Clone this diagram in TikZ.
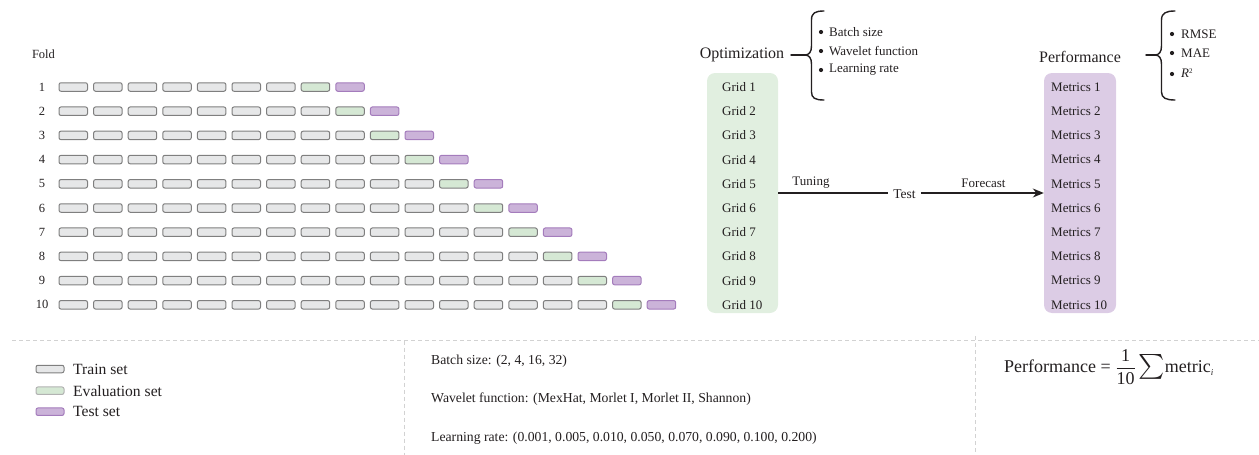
\documentclass[tikz,border=0pt]{standalone}
\usepackage{amsmath}
\usepackage{fontspec}
\setmainfont{Liberation Serif}
\usetikzlibrary{arrows.meta}

\definecolor{trainfill}{HTML}{E6E7E8}
\definecolor{trainedge}{HTML}{7F7F7F}
\definecolor{evalfill}{HTML}{D5E8D4}
\definecolor{testfill}{HTML}{CBB3D9}
\definecolor{testedge}{HTML}{A47CBC}
\definecolor{gridpanel}{HTML}{E1EFE0}
\definecolor{metricpanel}{HTML}{DCCCE5}
\definecolor{rulegrey}{HTML}{D2D2D2}
\definecolor{ink}{HTML}{231F20}

\begin{document}
\begin{tikzpicture}[x=1pt,y=-1pt,
  every node/.style={text=ink},
  cell/.style={rectangle, rounded corners=2pt, minimum width=28.5pt,
    minimum height=8.5pt, inner sep=0pt, line width=1pt},
  traincell/.style={cell, fill=trainfill, draw=trainedge},
  evalcell/.style={cell, fill=evalfill, draw=trainedge},
  testcell/.style={cell, fill=testfill, draw=testedge},
  keycell/.style={cell, minimum height=7.5pt, minimum width=28pt},
  small/.style={font=\fontsize{13}{15}\selectfont, inner sep=1pt},
  rowlbl/.style={font=\fontsize{12.5}{14}\selectfont, inner sep=1pt},
  title/.style={font=\fontsize{16}{19}\selectfont, inner sep=1pt},
  bullettext/.style={font=\fontsize{13}{15}\selectfont, anchor=west, inner sep=1pt},
  panel/.style={rectangle, rounded corners=8pt, minimum width=71pt,
    minimum height=240pt, inner sep=0pt},
  legendtext/.style={font=\fontsize{15.6}{18}\selectfont, anchor=west, inner sep=1pt},
  paramtext/.style={font=\fontsize{13.7}{16}\selectfont, anchor=west, inner sep=1pt},
  bracepath/.style={draw=ink, line width=1.4pt, line cap=round},
  sep/.style={draw=rulegrey, line width=0.8pt, dash pattern=on 4pt off 3pt},
  link/.style={draw=ink, line width=1.3pt},
  dot/.style={fill=ink}
]
\useasboundingbox (0,0) rectangle (1259,455);

% ---- folds of the rolling split ----
\node[rowlbl] (fold) at (43.5,54) {Fold};
\foreach \k in {1,...,10}{
  \pgfmathsetmacro{\yy}{87+(\k-1)*24.2}
  \pgfmathtruncatemacro{\n}{\k+8}
  \pgfmathtruncatemacro{\m}{\k+7}
  \node[rowlbl] (row\k) at (42,\yy) {\k};
  \foreach \j in {1,...,\n}{
    \pgfmathsetmacro{\xx}{73.25+(\j-1)*34.6}
    \ifnum\j=\n \def\sty{testcell}\else\ifnum\j=\m \def\sty{evalcell}\else\def\sty{traincell}\fi\fi
    \node[style=\sty] (c\k-\j) at (\xx,\yy) {};
  }
}

% ---- grid search column ----
\node[panel, fill=gridpanel] (gridp) at (742.5,193) {};
\node[title] (opt) at (742,55) {Optimization};
\foreach \k in {1,...,10}{
  \pgfmathsetmacro{\yy}{87+(\k-1)*24.2}
  \node[small, anchor=west] (g\k) at (721,\yy) {Grid \k};
}

% ---- metrics column ----
\node[panel, fill=metricpanel, minimum width=72pt] (metp) at (1080,193) {};
\node[title] (perfhead) at (1080,57) {Performance};
\foreach \k in {1,...,10}{
  \pgfmathsetmacro{\yy}{87+(\k-1)*24.2}
  \node[small, anchor=west] (m\k) at (1050,\yy) {Metrics \k};
}

% ---- flow from tuning to forecast ----
\node[small, inner xsep=5pt, font=\fontsize{13.5}{15}\selectfont] (test) at (904.5,194) {Test};
\node[small] (tuning) at (811,183) {Tuning};
\node[small] (forecast) at (983.5,183) {Forecast};
\draw[link] (gridp.east |- 0,193) -- (test.west |- 0,193);
\draw[link, -{Stealth[length=11pt,width=9pt]}] (test.east |- 0,193) -- (metp.west |- 0,193);

% ---- braces with the tuned settings ----
\coordinate (optb) at (805,55);
\draw[bracepath] (791,55) -- (optb);
\draw[bracepath] (824,11) .. controls (815,11) and (811.5,13) .. (811.5,20)
  -- (811.5,46) .. controls (811.5,52) and (809,55) .. (optb)
  .. controls (809,55) and (811.5,58) .. (811.5,64)
  -- (811.5,92) .. controls (811.5,98) and (815,100) .. (824,100);
\foreach \t/\yy/\nm in {Batch size/32/ob1, Wavelet function/51/ob2, Learning rate/70/ob3}{
  \fill[dot] (821,\yy) circle (2.1);
  \node[bullettext] (\nm) at (828,\yy) {\t};
}

\coordinate (perfb) at (1155,55);
\draw[bracepath] (1146,55) -- (perfb);
\draw[bracepath] (1175,11) .. controls (1166,11) and (1161.5,13) .. (1161.5,20)
  -- (1161.5,46) .. controls (1161.5,52) and (1159,55) .. (perfb)
  .. controls (1159,55) and (1161.5,58) .. (1161.5,64)
  -- (1161.5,92) .. controls (1161.5,98) and (1166,100) .. (1175,100);
\fill[dot] (1172,34) circle (2.1);
\node[bullettext] (pb1) at (1180,34) {RMSE};
\fill[dot] (1172,53) circle (2.1);
\node[bullettext] (pb2) at (1180,53) {MAE};
\fill[dot] (1172,74) circle (2.1);
\node[bullettext] (pb3) at (1180,73) {\textit{R}\raisebox{0.55ex}{\fontsize{7}{7}\selectfont 2}};

% ---- lower panel separators ----
\draw[sep] (12,340.7) -- (1259,340.7);
\draw[sep] (404,340.7) -- (404,455);
\draw[sep] (975,336) -- (975,455);

% ---- legend ----
\node[keycell, fill=trainfill, draw=trainedge] (ktrain) at (50,369) {};
\node[legendtext] (ltrain) at (72,369) {Train set};
\node[keycell, fill=evalfill, draw=trainedge!60] (keval) at (50,390.7) {};
\node[legendtext] (leval) at (72,390.7) {Evaluation set};
\node[keycell, fill=testfill, draw=testedge] (ktest) at (50,411.7) {};
\node[legendtext] (ltest) at (72,411.7) {Test set};

% ---- search space ----
\node[paramtext] (pbatch) at (430,361.7) {Batch size: (2, 4, 16, 32)};
\node[paramtext] (pwave) at (430,399) {Wavelet function: (MexHat, Morlet I, Morlet II, Shannon)};
\node[paramtext] (plr) at (430,438.3) {Learning rate: (0.001, 0.005, 0.010, 0.050, 0.070, 0.090, 0.100, 0.200)};

% ---- aggregate score ----
\node[anchor=west, inner sep=1pt, font=\fontsize{18}{22}\selectfont] (formula) at (1003,367)
  {Performance = $\dfrac{\mbox{1}}{\mbox{10}}\,\mbox{\fontsize{25}{25}\selectfont$\sum$}\mbox{metric}_{\mbox{\fontsize{9}{9}\selectfont\itshape i}}$};
\end{tikzpicture}
\end{document}
